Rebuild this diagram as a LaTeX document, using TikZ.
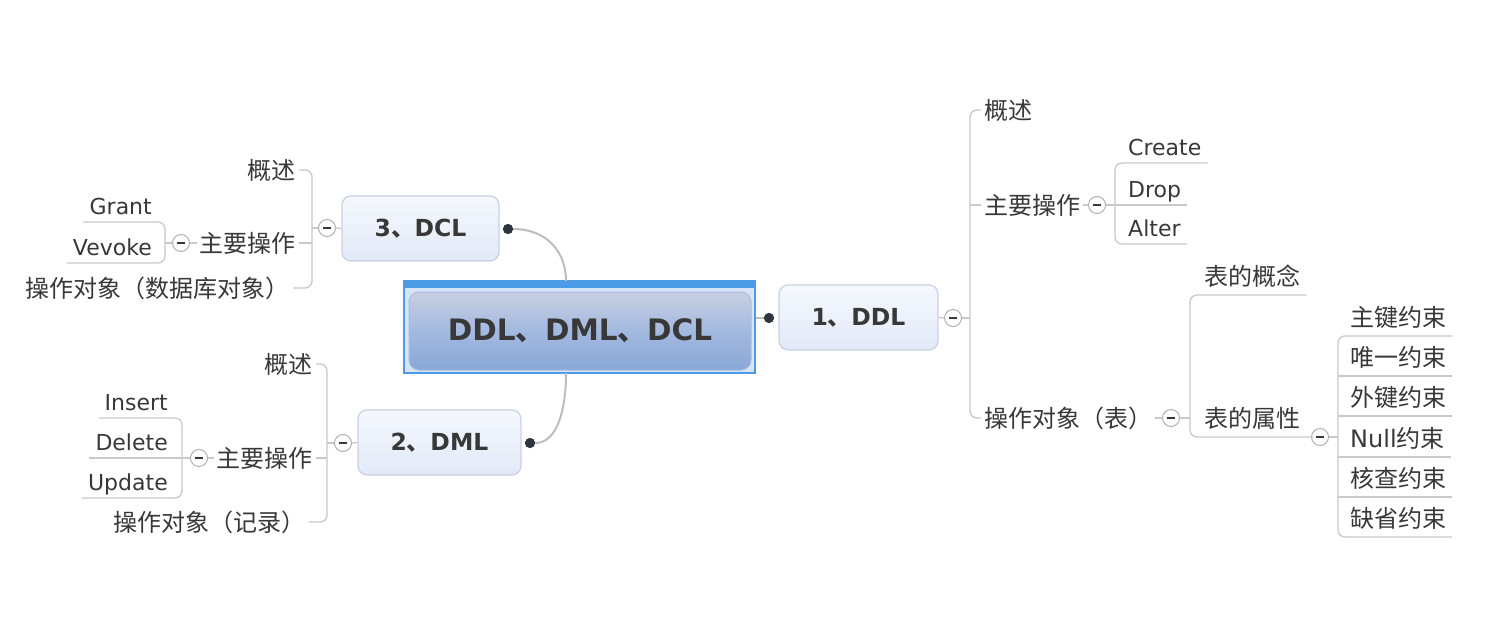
\documentclass[tikz,border=0pt]{standalone}
\usepackage{fontspec}
\setmainfont{DejaVu Sans}
\newfontfamily\cjk{Noto Sans CJK SC}
\usetikzlibrary{calc}
\definecolor{txt}{HTML}{383838}
\definecolor{ln}{HTML}{C9C9C9}
\definecolor{curve}{HTML}{BDBDBD}
\definecolor{bdr}{HTML}{C8D1E3}
\definecolor{ntop}{HTML}{F5F8FD}
\definecolor{nbot}{HTML}{E2E9F7}
\definecolor{framec}{HTML}{4C9BE6}
\definecolor{framefill}{HTML}{D6E4F5}
\definecolor{ctop}{HTML}{C8CFE2}
\definecolor{cmid}{HTML}{A3B9DF}
\definecolor{cbot}{HTML}{8AA7D8}
\definecolor{cbdr}{HTML}{A9BCE0}
\definecolor{foldc}{HTML}{B0B0B0}
\definecolor{dotc}{HTML}{2E3440}
\begin{document}
\begin{tikzpicture}[x=1pt,y=-1pt,
 topic/.style={rounded corners=9pt, draw=bdr, line width=1.2pt, top color=ntop, bottom color=nbot, minimum height=65pt, inner sep=0pt, font=\bfseries\fontsize{23.5}{26}\selectfont, text=txt},
 cleaf/.style={font=\cjk\fontsize{24}{28}\selectfont, text=txt, inner xsep=3pt, inner ysep=0pt},
 uleafl/.style={font=\fontsize{22}{26}\selectfont, text=txt, inner xsep=6pt, inner ysep=2pt, text height=16pt, text depth=5pt},
 uleafc/.style={font=\cjk\fontsize{24}{28}\selectfont, text=txt, inner xsep=6pt, inner ysep=3pt, text height=19pt, text depth=6pt},
 conn/.style={draw=ln, line width=1.3pt, rounded corners=7pt},
 fold/.style={circle, draw=foldc, line width=1pt, fill=white, minimum size=17pt, inner sep=0pt, path picture={\draw[txt, line width=1.5pt] ([xshift=-4pt]path picture bounding box.center) -- ([xshift=4pt]path picture bounding box.center);}},
 dotn/.style={circle, fill=dotc, minimum size=10pt, inner sep=0pt},
 link/.style={draw=curve, line width=2pt},
]
\useasboundingbox (0,0) rectangle (1488,634);
\fill[white] (0,0) rectangle (1488,634);

% central topic
\node[draw=framec, line width=1.2pt, fill=framefill, minimum width=351pt, minimum height=92pt, inner sep=0pt] (cf) at (579.5,327) {};
\fill[framec] (cf.north west) rectangle ($(cf.north east)+(0,8)$);
\node[rounded corners=10pt, draw=cbdr, line width=1pt, top color=ctop, bottom color=cbot, middle color=cmid, minimum width=342pt, minimum height=78pt, inner sep=0pt, font=\bfseries\fontsize{29.5}{32}\selectfont, text=txt] (c) at (580,331) {DDL{\cjk 、}DML{\cjk 、}DCL};
\coordinate (cT) at (566,281);
\coordinate (cB) at (566,373);

% main topics
\node[topic, minimum width=159pt] (ddl) at (858.5,317.5) {1{\cjk 、}DDL};
\node[topic, minimum width=157pt] (dcl) at (420.5,228.5) {3{\cjk 、}DCL};
\node[topic, minimum width=163pt] (dml) at (439.5,442.5) {2{\cjk 、}DML};

% connectors from central topic
\node[dotn] (ddot) at (769,318) {};
\node[dotn] (cdot) at (508,229) {};
\node[dotn] (mdot) at (530,443) {};
\draw[link] (cf.east |- ddot) -- (ddot);
\draw[link] (cdot) .. controls +(38,0) and +(0,-30) .. (cT);
\draw[link] (mdot) .. controls +(28,0) and +(0,35) .. (cB);
\node[dotn] at (ddot) {};
\node[dotn] at (cdot) {};
\node[dotn] at (mdot) {};

% ---------- DDL branch ----------
\node[fold] (ddlf) at (953,318) {};
\coordinate (bR1) at (970,318);
\node[cleaf, anchor=west] (r_gs) at (981,110) {概述};
\node[cleaf, anchor=west] (r_op) at (981,205) {主要操作};
\node[cleaf, anchor=west] (r_obj) at (981,418) {操作对象（表）};
\node[fold] (r_opf) at (1097,205) {};
\coordinate (bR2) at (1115,205);
\node[uleafl, anchor=south west] (create) at (1122,163) {Create};
\node[uleafl, anchor=south west] (drop) at (1122,205) {Drop};
\node[uleafl, anchor=south west] (alter) at (1122,244) {Alter};
\node[fold] (r_objf) at (1171,418) {};
\coordinate (bR3) at (1190,418);
\node[uleafc, anchor=south west] (gn) at (1198,295) {表的概念};
\node[uleafc, anchor=south west] (sx) at (1198,437) {表的属性};
\node[fold] (sxf) at (1320,437) {};
\coordinate (bR4) at (1338,437);
\node[uleafc, anchor=south west] (k1) at (1344,336) {主键约束};
\node[uleafc, anchor=south west] (k2) at (1344,376) {唯一约束};
\node[uleafc, anchor=south west] (k3) at (1344,416) {外键约束};
\node[uleafc, anchor=south west] (k4) at (1344,457) {{\rmfamily Null}约束};
\node[uleafc, anchor=south west] (k5) at (1344,497) {核查约束};
\node[uleafc, anchor=south west] (k6) at (1344,537) {缺省约束};

\draw[conn] (ddl.east) -- (ddlf.west);
\draw[conn] (ddlf.east) -- (ddlf.east -| bR1);
\draw[conn] (r_gs.west) -| (bR1) |- (r_obj.west);
\draw[conn] (r_op.west) -- (r_op.west -| bR1);
\draw[conn] (r_op.east) -- (r_opf.west);
\draw[conn] (create.south east) -- (create.south -| bR2) -- (alter.south -| bR2) -- (alter.south east);
\draw[conn] (r_opf.east) -- (drop.south east);
\draw[conn] (r_obj.east) -- (r_objf.west);
\draw[conn] (r_objf.east) -- (r_objf.east -| bR3);
\draw[conn] (gn.south east) -- (gn.south -| bR3) -- (sx.south -| bR3) -- (sx.south east) -- (sxf.west);
\draw[conn] (sxf.east) -- (sxf.east -| bR4);
\draw[conn] (k1.south east) -- (k1.south -| bR4) -- (k6.south -| bR4) -- (k6.south east);
\foreach \k in {k2,k3,k4,k5} \draw[conn] (\k.south -| bR4) -- (\k.south east);

% ---------- DCL branch ----------
\node[fold] (dclf) at (327,228) {};
\coordinate (bL1) at (312,228);
\node[cleaf, anchor=east] (l_gs) at (299,170) {概述};
\node[cleaf, anchor=east] (l_op) at (299,243) {主要操作};
\node[cleaf, anchor=east] (l_obj) at (293,288) {操作对象（数据库对象）};
\node[fold] (l_opf) at (181,243) {};
\coordinate (bL2) at (165,243);
\node[uleafl, anchor=south east] (grant) at (158,222) {Grant};
\node[uleafl, anchor=south east] (vevoke) at (158,263) {Vevoke};

\draw[conn] (dcl.west) -- (dclf.east);
\draw[conn] (dclf.west) -- (dclf.west -| bL1);
\draw[conn] (l_gs.east) -| (bL1) |- (l_obj.east);
\draw[conn] (l_op.east) -- (l_op.east -| bL1);
\draw[conn] (l_op.west) -- (l_opf.east);
\draw[conn] (grant.south west) -- (grant.south -| bL2) -- (vevoke.south -| bL2) -- (vevoke.south west);
\draw[conn] (l_opf.west) -- (l_opf.west -| bL2);

% ---------- DML branch ----------
\node[fold] (dmlf) at (343,443) {};
\coordinate (bM1) at (327,443);
\node[cleaf, anchor=east] (m_gs) at (316,364) {概述};
\node[cleaf, anchor=east] (m_op) at (316,458) {主要操作};
\node[cleaf, anchor=east] (m_obj) at (309,522) {操作对象（记录）};
\node[fold] (m_opf) at (199,458) {};
\coordinate (bM2) at (182,458);
\node[uleafl, anchor=south east] (insert) at (174,418) {Insert};
\node[uleafl, anchor=south east] (delete) at (174,458) {Delete};
\node[uleafl, anchor=south east] (update) at (174,498) {Update};

\draw[conn] (dml.west) -- (dmlf.east);
\draw[conn] (dmlf.west) -- (dmlf.west -| bM1);
\draw[conn] (m_gs.east) -| (bM1) |- (m_obj.east);
\draw[conn] (m_op.east) -- (m_op.east -| bM1);
\draw[conn] (m_op.west) -- (m_opf.east);
\draw[conn] (insert.south west) -- (insert.south -| bM2) -- (update.south -| bM2) -- (update.south west);
\draw[conn] (m_opf.west) -- (delete.south west);
\end{tikzpicture}
\end{document}
